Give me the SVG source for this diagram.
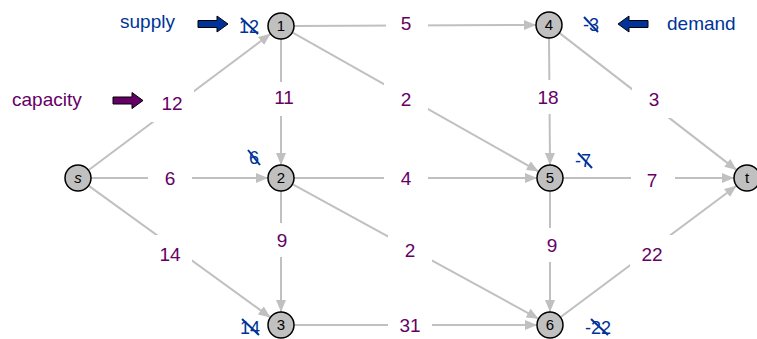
<svg xmlns="http://www.w3.org/2000/svg" width="757" height="339" viewBox="0 0 757 339">
<style>
.e{stroke:#c0c0c0;stroke-width:2;fill:none;marker-end:url(#ah)}
.lb{fill:#fff}
.lt{font-family:"Liberation Sans",Arial,sans-serif;font-size:19px;fill:#660066;text-anchor:middle}
.nd{fill:#c0c0c0;stroke:#000;stroke-width:1.5}
.nt{font-family:"Liberation Sans",Arial,sans-serif;font-size:15px;fill:#000;text-anchor:middle}
.bl{font-family:"Liberation Sans",Arial,sans-serif;font-size:19px;fill:#003399}
.pu{font-family:"Liberation Sans",Arial,sans-serif;font-size:19px;fill:#660066}
.cx{font-family:"Liberation Sans",Arial,sans-serif;font-size:18px;fill:#003399;text-anchor:middle}
.cl{stroke:#003399;stroke-width:2}
</style>
<defs>
<marker id="ah" viewBox="0 0 12 10" refX="12" refY="5" markerWidth="12" markerHeight="10" markerUnits="userSpaceOnUse" orient="auto">
<path d="M0,0 L12,5 L0,10 Z" fill="#c0c0c0"/>
</marker>
</defs>
<g id="connectors">
<line class="e" x1="88.4" y1="170.2" x2="270.6" y2="33.8"/>
<line class="e" x1="91" y1="178" x2="268" y2="178"/>
<line class="e" x1="88.5" y1="185.6" x2="270.5" y2="317.4"/>
<line class="e" x1="294" y1="26" x2="536" y2="25"/>
<line class="e" x1="281" y1="39" x2="281" y2="165"/>
<line class="e" x1="292.3" y1="32.4" x2="538.7" y2="171.6"/>
<line class="e" x1="294" y1="178" x2="537" y2="178"/>
<line class="e" x1="281" y1="191" x2="281" y2="312"/>
<line class="e" x1="292.4" y1="184.2" x2="538.6" y2="318.8"/>
<line class="e" x1="294" y1="325" x2="537" y2="325"/>
<line class="e" x1="549" y1="38" x2="550" y2="165"/>
<line class="e" x1="559.3" y1="32.9" x2="736.7" y2="170.1"/>
<line class="e" x1="563" y1="178" x2="734" y2="178"/>
<line class="e" x1="550" y1="191" x2="550" y2="312"/>
<line class="e" x1="560.4" y1="317.2" x2="736.6" y2="185.8"/>
<rect class="lb" x="150" y="84" width="44" height="38"/><text class="lt" x="172" y="110">12</text>
<rect class="lb" x="148" y="163" width="44" height="30"/><text class="lt" x="170" y="185">6</text>
<rect class="lb" x="148" y="235" width="44" height="38"/><text class="lt" x="170" y="261">14</text>
<rect class="lb" x="386" y="9" width="42" height="30"/><text class="lt" x="406" y="30">5</text>
<rect class="lb" x="266" y="82" width="34" height="34"/><text class="lt" x="284" y="104">11</text>
<rect class="lb" x="384" y="80" width="44" height="38"/><text class="lt" x="406" y="106">2</text>
<rect class="lb" x="384" y="163" width="44" height="30"/><text class="lt" x="406" y="185">4</text>
<rect class="lb" x="265" y="223" width="34" height="34"/><text class="lt" x="282" y="247">9</text>
<rect class="lb" x="388" y="231" width="44" height="38"/><text class="lt" x="410" y="257">2</text>
<rect class="lb" x="388" y="310" width="44" height="29"/><text class="lt" x="410" y="332">31</text>
<rect class="lb" x="532" y="80" width="34" height="34"/><text class="lt" x="548" y="104">18</text>
<rect class="lb" x="632" y="80" width="44" height="38"/><text class="lt" x="654" y="106">3</text>
<rect class="lb" x="631" y="165" width="44" height="30"/><text class="lt" x="652" y="187">7</text>
<rect class="lb" x="535" y="228" width="34" height="34"/><text class="lt" x="552" y="252">9</text>
<rect class="lb" x="630" y="235" width="44" height="38"/><text class="lt" x="652" y="261">22</text>
</g>
<g id="node-s"><circle class="nd" cx="78" cy="178" r="13"/><text class="nt" x="78" y="183" font-style="italic">s</text></g>
<g id="node-1"><circle class="nd" cx="281" cy="26" r="13"/><text class="nt" x="281" y="31">1</text></g>
<g id="node-2"><circle class="nd" cx="281" cy="178" r="13"/><text class="nt" x="281" y="183">2</text></g>
<g id="node-3"><circle class="nd" cx="281" cy="325" r="13"/><text class="nt" x="281" y="330">3</text></g>
<g id="node-4"><circle class="nd" cx="549" cy="25" r="13"/><text class="nt" x="549" y="30">4</text></g>
<g id="node-5"><circle class="nd" cx="550" cy="178" r="13"/><text class="nt" x="550" y="183">5</text></g>
<g id="node-6"><circle class="nd" cx="550" cy="325" r="13"/><text class="nt" x="550" y="330">6</text></g>
<g id="node-t"><circle class="nd" cx="747" cy="178" r="13"/><text class="nt" x="747" y="183">t</text></g>
<g id="supply-label">
<text class="bl" x="120" y="28">supply</text>
<path d="M198,20.5 H217 V16 L228,24 L217,32 V27.5 H198 Z" fill="#003399" stroke="#000" stroke-width="1"/>
</g>
<g id="demand-label">
<text class="bl" x="667" y="30">demand</text>
<path d="M648,20.5 H629 V16 L618,24 L629,32 V27.5 H648 Z" fill="#003399" stroke="#000" stroke-width="1"/>
</g>
<g id="capacity-label">
<text class="pu" x="12" y="106">capacity</text>
<path d="M113,97 H132 V92.5 L143,100.5 L132,108.5 V104 H113 Z" fill="#660066" stroke="#000" stroke-width="1"/>
</g>
<g id="crossed-values">
<text class="cx" x="249" y="33">12</text><line class="cl" x1="241" y1="18" x2="258" y2="34"/>
<text class="cx" x="254" y="164">6</text><line class="cl" x1="248" y1="150" x2="260" y2="165"/>
<text class="cx" x="250" y="334">14</text><line class="cl" x1="242" y1="319" x2="259" y2="335"/>
<text class="cx" x="598" y="334">-22</text><line class="cl" x1="591" y1="319" x2="608" y2="335"/>
<text class="cx" x="591" y="31">-3</text><line class="cl" x1="584" y1="17" x2="598" y2="32"/>
<text class="cx" x="583" y="167">-7</text><line class="cl" x1="578" y1="153" x2="592" y2="168"/>
</g>
</svg>
